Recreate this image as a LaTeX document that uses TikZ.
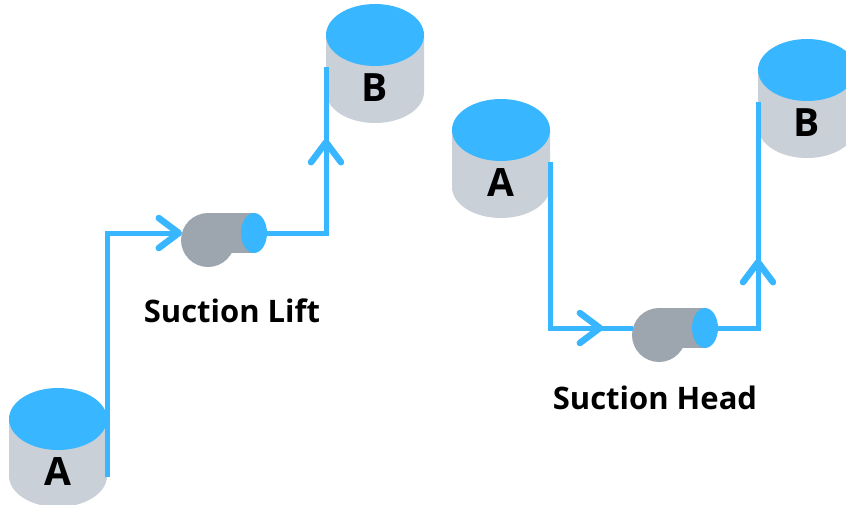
\documentclass[tikz,border=0pt]{standalone}
\usepackage{fontspec}
\setmainfont{Open Sans}
\usetikzlibrary{arrows.meta,decorations.markings}

\definecolor{water}{HTML}{38B6FF}
\definecolor{tankgrey}{HTML}{C9D0D8}
\definecolor{pumpgrey}{HTML}{9DA5AE}

\tikzset{
    >={Straight Barb[length=20pt,width=30pt,line width=6.5pt,round]},
    pipe/.style={draw=water, line width=5pt},
    flow/.style={postaction={decorate, decoration={markings,
        mark=at position #1 with {\arrow[water, line width=5pt]{>}}}}},
    letter/.style={font=\fontsize{39}{39}\selectfont\bfseries, text=black},
    caption/.style={font=\fontsize{31}{31}\selectfont\bfseries, text=black},
    % tank: grey body with the water surface on top
    tank/.pic={
        \fill[tankgrey] (-49,0) -- (-49,57)
            arc[start angle=180, end angle=0, x radius=49, y radius=31] -- (49,0) -- cycle;
        \fill[water] (0,0) ellipse[x radius=49, y radius=31];
        \node[letter] (-lbl) at (0,53) {#1};
        \coordinate (-nw) at (-49,32);
        \coordinate (-ne) at (49,32);
        \coordinate (-se) at (49,58);
    },
    % pump: round casing with a short barrel, outlet on the right
    pump/.pic={
        \fill[pumpgrey] (0,7) circle[radius=27];
        \fill[pumpgrey] (0,-20) rectangle (46,20);
        \fill[water] (46,0) ellipse[x radius=13, y radius=20];
        \coordinate (-in) at (-26,0);
        \coordinate (-out) at (59,0);
    },
}

\begin{document}
\begin{tikzpicture}[x=1pt, y=-1pt]
    \useasboundingbox (0,0) rectangle (846,504);

    % suction lift: A sits below the pump
    \pic (lowA) at (58,419) {tank=A};
    \pic (highB) at (375,35) {tank=B};
    \pic (liftpump) at (208,233) {pump};
    \draw[pipe, ->] (lowA-se) |- (liftpump-in);
    \draw[pipe, flow=0.68] (liftpump-out) -| (highB-nw);
    \node[caption] (lift) at (232,311) {Suction Lift};

    % suction head: A sits above the pump
    \pic (topA) at (501,130) {tank=A};
    \pic (topB) at (807,70) {tank=B};
    \pic (headpump) at (659,328) {pump};
    \draw[pipe, flow=0.88] (topA-ne) |- (headpump-in);
    \draw[pipe, flow=0.41] (headpump-out) -| (topB-nw);
    \node[caption] (head) at (655,398) {Suction Head};
\end{tikzpicture}
\end{document}
